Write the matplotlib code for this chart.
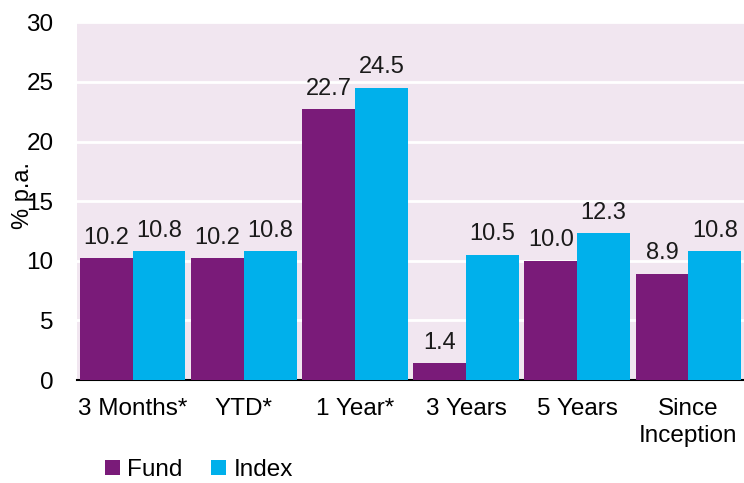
import matplotlib.pyplot as plt
import numpy as np

plt.rcParams['font.family'] = ['Liberation Sans', 'DejaVu Sans']

periods = ["3 Months*", "YTD*", "1 Year*", "3 Years", "5 Years", "Since\nInception"]
fund = [10.2, 10.2, 22.7, 1.4, 10.0, 8.9]
index = [10.8, 10.8, 24.5, 10.5, 12.3, 10.8]

fund_color = "#7A1B79"
index_color = "#00B0EB"
bg_color = "#F1E6F0"

fig = plt.figure(figsize=(7.44, 4.83), dpi=100)
ax = fig.add_axes([0.1035, 0.213, 0.8965, 0.741])
ax.set_facecolor(bg_color)

x = np.arange(len(periods))
w = 0.475
b1 = ax.bar(x - w / 2, fund, w, color=fund_color, label="Fund", zorder=3)
b2 = ax.bar(x + w / 2, index, w, color=index_color, label="Index", zorder=3)

for bars, vals in ((b1, fund), (b2, index)):
    for rect, v in zip(bars, vals):
        ax.annotate(f"{v:.1f}", (rect.get_x() + rect.get_width() / 2, v),
                    xytext=(0, 7), textcoords="offset points",
                    ha="center", va="bottom", fontsize=17, color="#1a1a1a")

ax.set_ylim(0, 30)
ax.set_xlim(-0.5, len(periods) - 0.5)
ax.set_yticks(range(0, 31, 5))
ax.yaxis.grid(True, color="white", linewidth=2, zorder=1)
ax.set_axisbelow(True)
ax.set_xticks(x)
ax.set_xticklabels(periods, fontsize=17.5, linespacing=1.3)
ax.tick_params(axis="y", labelsize=17.5, length=0, pad=17)
ax.tick_params(axis="x", length=0, pad=13)
for s in ("top", "right", "left"):
    ax.spines[s].set_visible(False)
ax.spines["bottom"].set_linewidth(1.5)
ax.spines["bottom"].set_color("black")
ax.set_ylabel("% p.a.", fontsize=17)
ax.yaxis.set_label_coords(-0.064, 0.517)

ax.legend(loc="center left", bbox_to_anchor=(0.042, -0.252), ncol=2, frameon=False,
          fontsize=17.5, handlelength=0.6, handleheight=0.6, handletextpad=0.3,
          columnspacing=1.2, borderaxespad=0, borderpad=0)

fig.savefig("out.png", dpi=100)
